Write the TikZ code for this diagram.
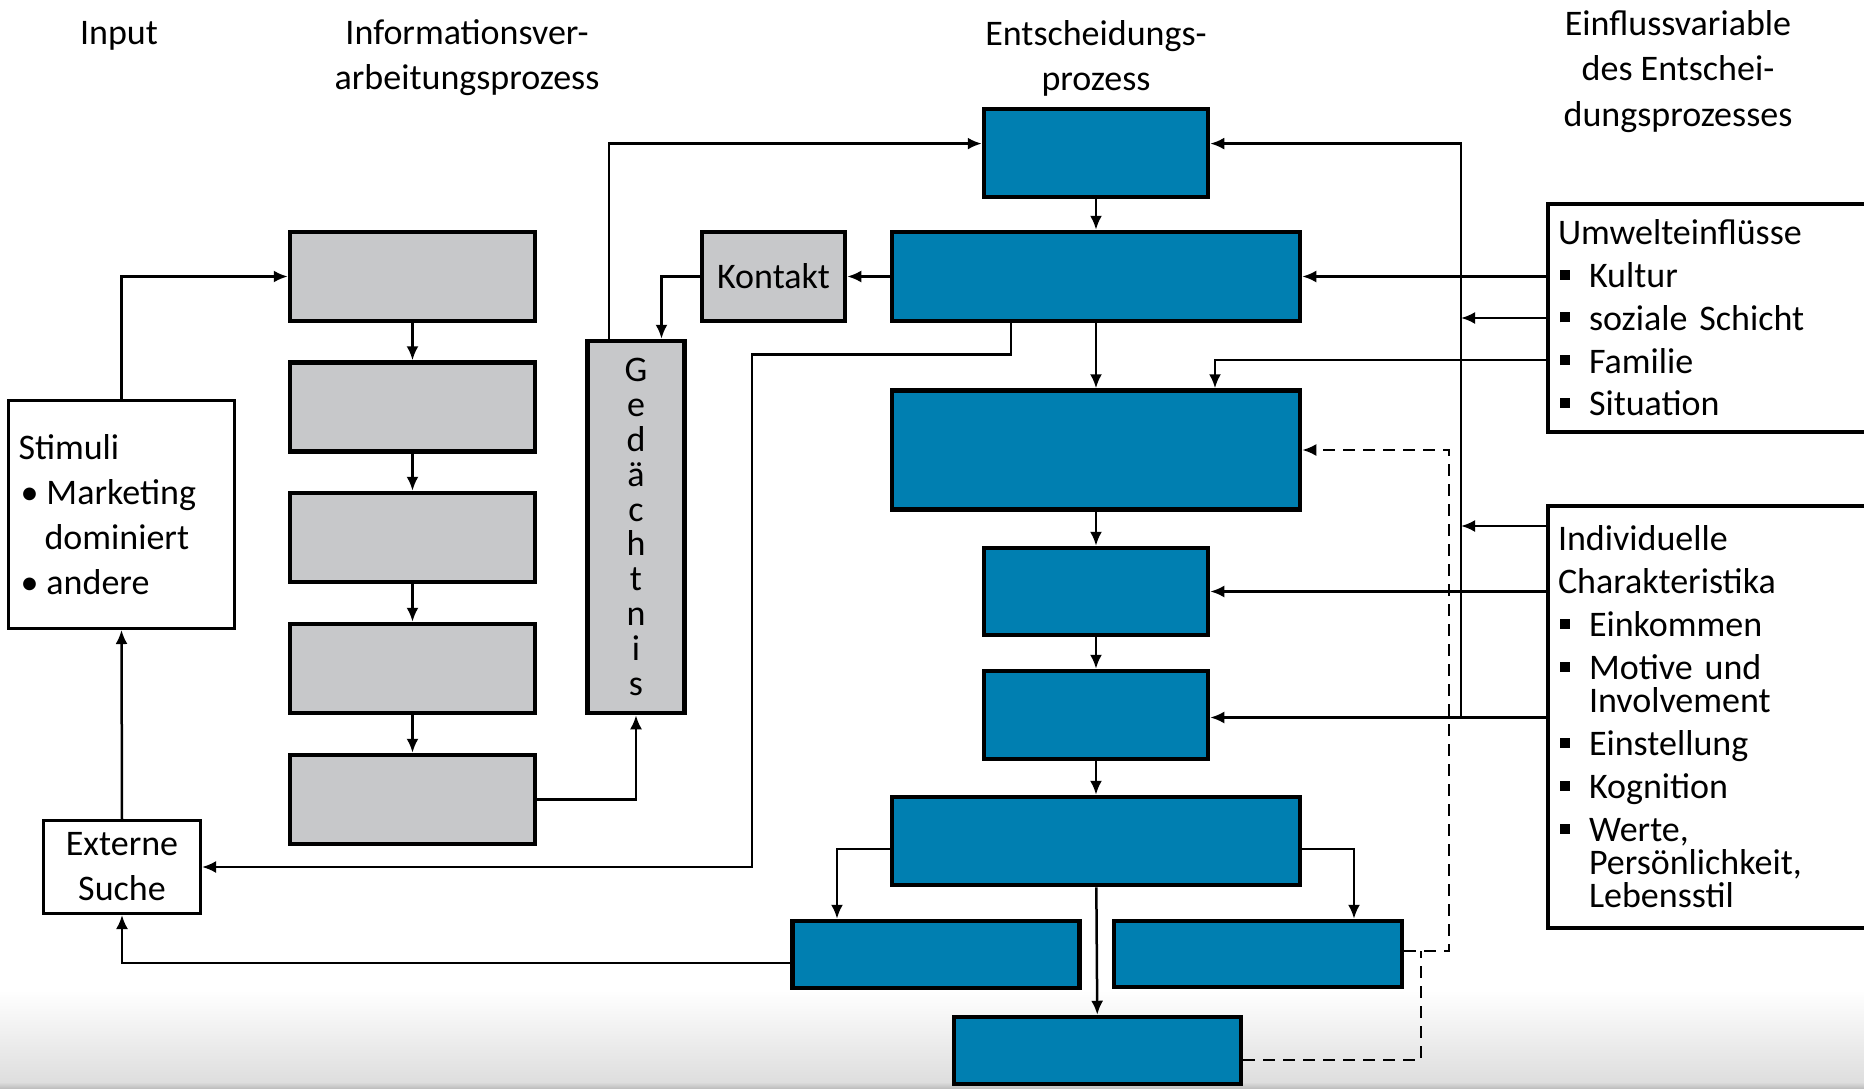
\documentclass[tikz,border=0pt]{standalone}
\usepackage{fontspec}
\setmainfont{Carlito}
\usepackage{tikz}
\usetikzlibrary{arrows.meta, positioning}
\definecolor{blau}{RGB}{0,127,177}
\definecolor{grau}{RGB}{199,200,202}
\newcommand{\quadrat}{\rule[4pt]{5pt}{5pt}}
\newcommand{\punkt}[1]{\makebox[15.5pt][l]{\hspace{1pt}\quadrat}#1}
\newcommand{\weiter}[1]{\hspace*{15.5pt}#1}
\newcommand{\rund}[1]{\makebox[14pt][l]{\hspace{1pt}•}#1}
\newcommand{\engzeilen}[1]{\fontsize{18}{#1}\selectfont\setlength{\lineskiplimit}{-20pt}}
\tikzstyle{entscheidung} = [draw=black, fill=blau, line width=2.25pt, rectangle, inner sep=0pt]
\tikzstyle{verarbeitung} = [draw=black, fill=grau, line width=2.25pt, rectangle, inner sep=0pt]
\tikzstyle{rahmen} = [draw=black, fill=white, line width=1.5pt, rectangle, inner sep=0pt, font=\fontsize{18}{22.5}\selectfont]
\tikzstyle{einfluss} = [draw=black, fill=white, line width=2pt, rectangle, inner xsep=5pt, inner ysep=0pt, text width=190pt, align=left]
\tikzstyle{pfeil} = [line width=1.25pt, -{Latex[length=7pt,width=6pt]}]
\tikzstyle{rueckpfeil} = [pfeil, dash pattern=on 6pt off 4pt]
\tikzstyle{linie} = [line width=1.25pt]
\tikzstyle{titel} = [align=center, font=\fontsize{18}{22.6}\selectfont]

\begin{document}
\begin{tikzpicture}[x=0.5pt, y=-0.5pt, font=\fontsize{18}{21.6}\selectfont]
	\useasboundingbox (0,0) rectangle (1864,1088);
	\clip (0,0) rectangle (1864,1088);
	\shade[top color=white, bottom color=black!13] (0,990) rectangle (1864,1082);
	\shade[top color=black!13, bottom color=black!25] (0,1082) rectangle (1864,1088);

	\node[titel] (titelinput) at (119,36) {Input};
	\node[titel] (titelinfo) at (467,58) {Informationsver-\\arbeitungsprozess};
	\node[titel] (titelentsch) at (1096,58) {Entscheidungs-\\prozess};
	\node[titel] (titeleinfluss) at (1678,71.5) {Einflussvariable\\des Entschei-\\dungsprozesses};

	\node[rahmen, minimum width=113pt, minimum height=114pt, text width=103pt, align=left] (stimuli) at (121.5,514.5) {Stimuli\\\rund{Marketing}\\\hspace*{13pt}dominiert\\\rund{andere}};
	\node[rahmen, minimum width=78.5pt, minimum height=46.5pt, align=center] (extern) at (122,867) {Externe\\Suche};

	\node[verarbeitung, minimum width=122.5pt, minimum height=44.5pt] (info1) at (412.5,276.5) {};
	\node[verarbeitung, minimum width=122.5pt, minimum height=44.5pt] (info2) at (412.5,407) {};
	\node[verarbeitung, minimum width=122.5pt, minimum height=44.5pt] (info3) at (412.5,537.5) {};
	\node[verarbeitung, minimum width=122.5pt, minimum height=44.5pt] (info4) at (412.5,668.5) {};
	\node[verarbeitung, minimum width=122.5pt, minimum height=44.5pt] (info5) at (412.5,799.5) {};
	\node[verarbeitung, minimum width=71.5pt, minimum height=44.5pt] (kontakt) at (773.5,276.5) {Kontakt};
	\node[verarbeitung, minimum width=48.5pt, minimum height=186pt, align=center, font=\engzeilen{17.4}] (gedaechtnis) at (636,527) {G\\e\\d\\ä\\c\\h\\t\\n\\i\\s};

	\node[entscheidung, minimum width=112pt, minimum height=44pt] (entsch1) at (1096,153) {};
	\node[entscheidung, minimum width=204pt, minimum height=44.5pt] (entsch2) at (1096,276.5) {};
	\node[entscheidung, minimum width=204pt, minimum height=59.5pt] (entsch3) at (1096,450) {};
	\node[entscheidung, minimum width=112pt, minimum height=43.5pt] (entsch4) at (1096,591.5) {};
	\node[entscheidung, minimum width=112pt, minimum height=44pt] (entsch5) at (1096,715) {};
	\node[entscheidung, minimum width=204pt, minimum height=44pt] (entsch6) at (1096,841) {};
	\node[entscheidung, minimum width=143.5pt, minimum height=33.5pt] (entsch7) at (936,954.5) {};
	\node[entscheidung, minimum width=144pt, minimum height=33pt] (entsch8) at (1258,954) {};
	\node[entscheidung, minimum width=143.5pt, minimum height=33.5pt] (entsch9) at (1097.5,1050.5) {};

	\node[einfluss, minimum height=114pt, font=\fontsize{18}{21.4}\selectfont] (umwelt) at (1748,318) {Umwelteinflüsse\\\punkt{Kultur}\\\punkt{soziale Schicht}\\\punkt{Familie}\\\punkt{Situation}};
	\node[einfluss, minimum height=211pt, font=\engzeilen{16.5}] (indiv) at (1748,717) {Individuelle\\[5pt]Charakteristika\\[5pt]\punkt{Einkommen}\\[5pt]\punkt{Motive und}\\\weiter{Involvement}\\[5pt]\punkt{Einstellung}\\[5pt]\punkt{Kognition}\\[5pt]\punkt{Werte,}\\\weiter{Persönlichkeit,}\\\weiter{Lebensstil}};

	\coordinate (bus) at (1461,717.5);
	\coordinate (knick) at (752,354.6);
	\coordinate (rueck1) at (1449,700);
	\coordinate (rueck2) at (1421,951);
	\coordinate (ind1) at ([yshift=-11pt]indiv.north west);

	\draw[pfeil] (stimuli.north) |- (info1.west);
	\foreach \a/\b in {info1/info2, info2/info3, info3/info4, info4/info5}
		\draw[pfeil] (\a) -- (\b);
	\draw[pfeil] (info5.east) -| (gedaechtnis.south);
	\draw[pfeil] (kontakt.west) -| ([xshift=12.75pt]gedaechtnis.north);
	\draw[pfeil] ([xshift=-13.5pt]gedaechtnis.north) |- ([yshift=4.7pt]entsch1.west);
	\draw[pfeil] (entsch2.west) -- (kontakt.east);
	\foreach \a/\b in {entsch1/entsch2, entsch2/entsch3, entsch3/entsch4, entsch4/entsch5, entsch5/entsch6, entsch6/entsch9}
		\draw[pfeil] (\a) -- (\b);
	\draw[pfeil] ([xshift=-42.5pt]entsch2.south) |- (knick) |- (extern.east);
	\draw[pfeil] ([yshift=-4pt]entsch6.west) -| ([xshift=-49.5pt]entsch7.north);
	\draw[pfeil] ([yshift=-4pt]entsch6.east) -| ([xshift=48pt]entsch8.north);
	\draw[pfeil] ([yshift=-4.25pt]entsch7.west) -| (extern.south);
	\draw[pfeil] (extern.north) -- (stimuli.south);

	\draw[pfeil] (umwelt.west |- entsch2.east) -- (entsch2.east);
	\draw[pfeil] (umwelt.west) -- (umwelt.west -| bus);
	\draw[pfeil] ([yshift=-21pt]umwelt.west) -| ([xshift=59.5pt]entsch3.north);
	\draw[pfeil] (bus) |- ([yshift=4.7pt]entsch1.east);
	\draw[pfeil] (ind1) -- (ind1 -| bus);
	\draw[pfeil] (indiv.west |- entsch4.east) -- (entsch4.east);
	\draw[pfeil] (indiv.west |- bus) -- (entsch5.east |- bus);

	\draw[rueckpfeil] ([yshift=1.5pt]entsch8.east) -| (rueck1) |- (entsch3.east);
	\draw[linie, dash pattern=on 6pt off 4pt] ([yshift=-4.75pt]entsch9.east) -| (rueck2);
\end{tikzpicture}
\end{document}
